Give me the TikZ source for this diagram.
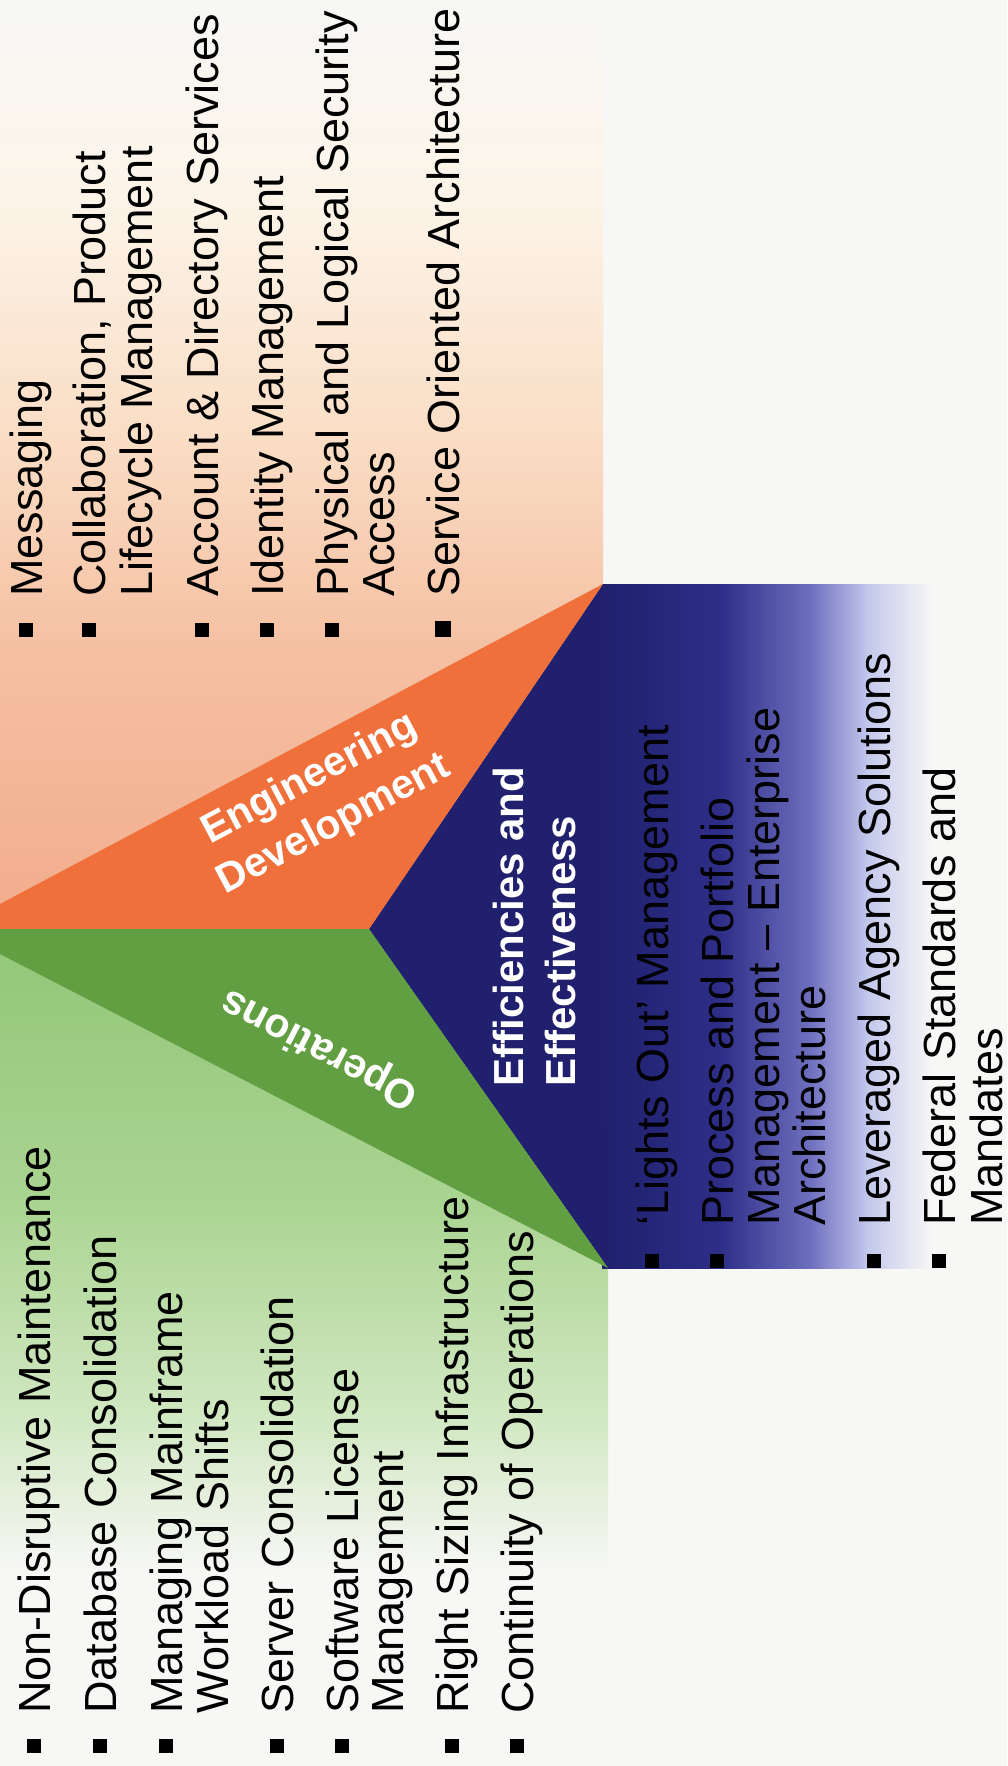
\documentclass[tikz,border=0pt]{standalone}
\usepackage{fontspec}
\setmainfont{Liberation Sans}
\usepackage{xcolor}
\definecolor{pageWhite}{RGB}{247,247,245}
\definecolor{engOrange}{RGB}{240,112,60}
\definecolor{peachDark}{RGB}{242,172,140}
\definecolor{peachMid}{RGB}{245,192,162}
\definecolor{peachLight}{RGB}{250,222,198}
\definecolor{creamTop}{RGB}{252,244,232}
\definecolor{opsGreen}{RGB}{98,158,66}
\definecolor{greenLight}{RGB}{145,198,120}
\definecolor{greenMid}{RGB}{170,212,145}
\definecolor{greenPale}{RGB}{210,232,195}
\definecolor{effNavy}{RGB}{32,32,110}
\definecolor{navyMid}{RGB}{46,46,136}
\definecolor{lavender}{RGB}{112,112,192}
\definecolor{lavPale}{RGB}{195,200,236}
\tikzset{
    listline/.style={
        anchor=base west,
        rotate=90,
        inner sep=0pt,
        text=black,
        font={\fontsize{22.5pt}{23.5pt}\selectfont}
    },
    bulletbox/.style={
        rectangle,
        fill=black,
        inner sep=0pt,
        minimum size=6.6pt
    },
    headline/.style={
        inner sep=0pt,
        text=white,
        font={\bfseries\fontsize{20.5pt}{26pt}\selectfont}
    }
}

\begin{document}
\begin{tikzpicture}[x=0.5pt, y=-0.5pt]
    \useasboundingbox (0,0) rectangle (1007,1766);
    \fill[pageWhite] (0,0) rectangle (1007,1766);
    % peach field
    \shade[top color=pageWhite, bottom color=creamTop] (0,0) rectangle (603,201);
    \shade[top color=creamTop, bottom color=peachLight] (0,200) rectangle (603,431);
    \shade[top color=peachLight, bottom color=peachMid] (0,430) rectangle (603,651);
    \shade[top color=peachMid, bottom color=peachDark] (0,650) rectangle (603,929);
    % green field
    \shade[top color=greenLight, bottom color=greenMid] (0,929) rectangle (608,1201);
    \shade[top color=greenMid, bottom color=greenPale] (0,1200) rectangle (608,1421);
    \shade[top color=greenPale, bottom color=pageWhite] (0,1420) rectangle (608,1570);
    % blue field
    \shade[left color=effNavy, right color=navyMid] (602,584) rectangle (721,1268);
    \shade[left color=navyMid, right color=lavender] (720,584) rectangle (812,1268);
    \shade[left color=lavender, right color=lavPale] (811,584) rectangle (868,1268);
    \shade[left color=lavPale, right color=pageWhite] (867,584) rectangle (932,1268);
    % wedges
    \fill[effNavy] (603,584) -- (369,929) -- (608,1268) -- cycle;
    \fill[engOrange] (0,904) -- (603,584) -- (369,929) -- (0,929) -- cycle;
    \fill[opsGreen] (0,929) -- (369,929) -- (608,1268) -- (0,954) -- cycle;

    \node[headline, rotate=28, align=center] (engdev) at (322,802) {Engineering\\Development};
    \node[headline, rotate=152.6] (ops) at (320,1048) {Operations};
    \node[headline, anchor=base west, rotate=90, font={\bfseries\fontsize{21pt}{26pt}\selectfont}] (eff) at (523,1087) {Efficiencies and};
    \node[headline, anchor=base west, rotate=90, font={\bfseries\fontsize{21pt}{26pt}\selectfont}] (effb) at (575,1087) {Effectiveness};

    \node[listline] (msg) at (42,597) {Messaging};
    \node[listline] (collab) at (105,597) {Collaboration, Product};
    \node[listline] (plm) at (152,597) {Lifecycle Management};
    \node[listline] (acct) at (218,597) {Account \& Directory Services};
    \node[listline] (idm) at (283,597) {Identity Management};
    \node[listline] (phys) at (348,597) {Physical and Logical Security};
    \node[listline] (access) at (394,597) {Access};
    \node[listline] (soa) at (459,597) {Service Oriented Architecture};
    \node[bulletbox] (bmsg) at (26,630) {};
    \node[bulletbox] (bcollab) at (89,630) {};
    \node[bulletbox] (bacct) at (202,630) {};
    \node[bulletbox] (bidm) at (267,630) {};
    \node[bulletbox] (bphys) at (332,630) {};
    \node[bulletbox, minimum size=7.8pt] (bsoa) at (443,629) {};

    \node[listline] (lights) at (668,1226) {‘Lights Out’ Management};
    \node[listline] (proc) at (733,1226) {Process and Portfolio};
    \node[listline] (procb) at (779,1226) {Management – Enterprise};
    \node[listline] (procc) at (825,1226) {Architecture};
    \node[listline] (lev) at (890,1226) {Leveraged Agency Solutions};
    \node[listline] (fed) at (955,1226) {Federal Standards and};
    \node[listline] (fedb) at (1002,1226) {Mandates};
    \node[bulletbox] (blights) at (652,1261) {};
    \node[bulletbox] (bproc) at (717,1261) {};
    \node[bulletbox] (blev) at (874,1261) {};
    \node[bulletbox] (bfed) at (939,1261) {};

    \node[listline] (ndm) at (50,1714) {Non-Disruptive Maintenance};
    \node[listline] (dbc) at (116,1714) {Database Consolidation};
    \node[listline] (mmf) at (182,1714) {Managing Mainframe};
    \node[listline] (mmfb) at (228,1714) {Workload Shifts};
    \node[listline] (srv) at (293,1714) {Server Consolidation};
    \node[listline] (swl) at (358,1714) {Software License};
    \node[listline] (swlb) at (403,1714) {Management};
    \node[listline] (rsi) at (468,1714) {Right Sizing Infrastructure};
    \node[listline] (coop) at (533,1714) {Continuity of Operations};
    \node[bulletbox] (bndm) at (34,1746) {};
    \node[bulletbox] (bdbc) at (100,1746) {};
    \node[bulletbox] (bmmf) at (166,1746) {};
    \node[bulletbox] (bsrv) at (277,1746) {};
    \node[bulletbox] (bswl) at (342,1746) {};
    \node[bulletbox] (brsi) at (452,1746) {};
    \node[bulletbox] (bcoop) at (517,1746) {};
\end{tikzpicture}
\end{document}
